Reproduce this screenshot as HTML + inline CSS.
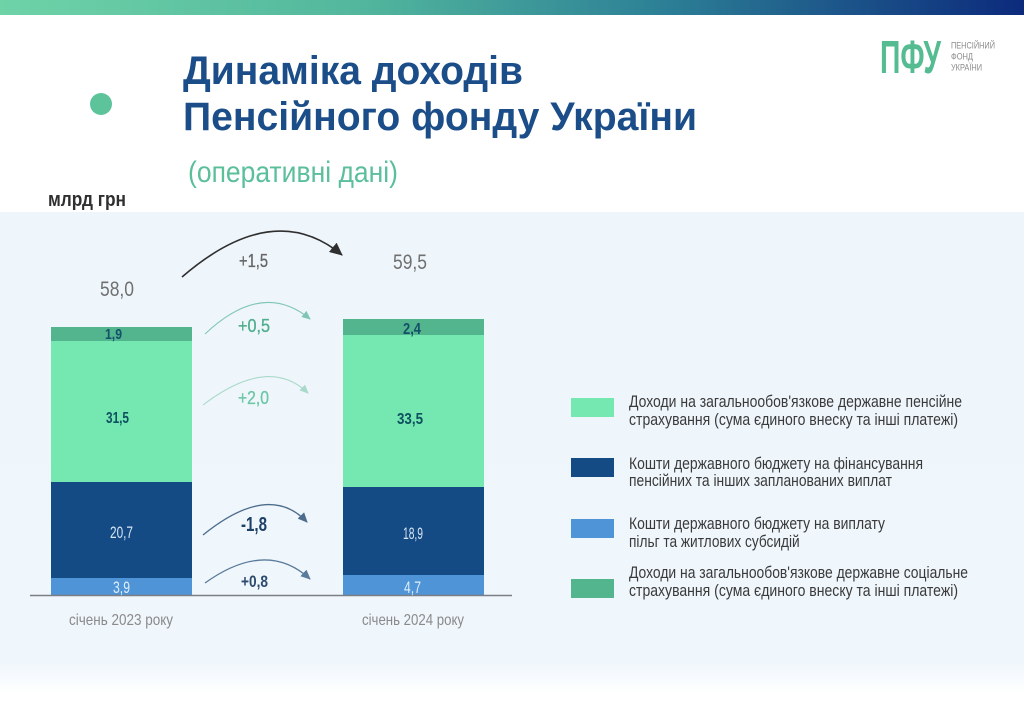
<!DOCTYPE html>
<html>
<head>
<meta charset="utf-8">
<style>
  html,body{margin:0;padding:0;background:#ffffff;}
  svg{display:block;}
  text{font-family:"Liberation Sans","Noto Sans CJK SC",sans-serif;}
</style>
</head>
<body>
<svg width="1024" height="715" viewBox="0 0 1024 715" xmlns="http://www.w3.org/2000/svg">
  <defs>
    <linearGradient id="topbar" x1="0" y1="0" x2="1" y2="0">
      <stop offset="0" stop-color="#6fd3a8"/>
      <stop offset="0.35" stop-color="#52b79d"/>
      <stop offset="0.65" stop-color="#2c7f96"/>
      <stop offset="1" stop-color="#0c2a7c"/>
    </linearGradient>
    <linearGradient id="panel" x1="0" y1="0" x2="0" y2="1">
      <stop offset="0" stop-color="#eef5fb"/>
      <stop offset="0.93" stop-color="#eff6fc"/>
      <stop offset="1" stop-color="#ffffff"/>
    </linearGradient>
    <marker id="mBig" markerWidth="14" markerHeight="12" refX="12" refY="6" orient="auto" markerUnits="userSpaceOnUse">
      <path d="M0,0 L13,6 L0,12 Z" fill="#2f2f2f"/>
    </marker>
    <marker id="m05" markerWidth="9" markerHeight="8" refX="8" refY="4" orient="auto" markerUnits="userSpaceOnUse">
      <path d="M0,0 L9,4 L0,8 Z" fill="#7fc6b5"/>
    </marker>
    <marker id="m20" markerWidth="9" markerHeight="8" refX="8" refY="4" orient="auto" markerUnits="userSpaceOnUse">
      <path d="M0,0 L9,4 L0,8 Z" fill="#a9d9c9"/>
    </marker>
    <marker id="m18" markerWidth="10" markerHeight="9" refX="9" refY="4.5" orient="auto" markerUnits="userSpaceOnUse">
      <path d="M0,0 L10,4.5 L0,9 Z" fill="#4d6c8c"/>
    </marker>
    <marker id="m08" markerWidth="10" markerHeight="9" refX="9" refY="4.5" orient="auto" markerUnits="userSpaceOnUse">
      <path d="M0,0 L10,4.5 L0,9 Z" fill="#5b7b9b"/>
    </marker>
  </defs>

  <!-- background -->
  <rect x="0" y="0" width="1024" height="715" fill="#ffffff"/>
  <rect x="0" y="0" width="1024" height="15" fill="url(#topbar)"/>
  <rect x="0" y="212" width="1024" height="482" fill="url(#panel)"/>

  <!-- header -->
  <circle cx="101" cy="104" r="11" fill="#5cc39a"/>
  <text x="183" y="84" font-size="40" font-weight="bold" fill="#1b4d89" textLength="340" lengthAdjust="spacingAndGlyphs">Динаміка доходів</text>
  <text x="183" y="130" font-size="40" font-weight="bold" fill="#1b4d89" textLength="514" lengthAdjust="spacingAndGlyphs">Пенсійного фонду України</text>
  <text x="188" y="182" font-size="30" fill="#5bbf9a" textLength="210" lengthAdjust="spacingAndGlyphs">(оперативні дані)</text>

  <!-- logo -->
  <text x="880" y="73" font-size="46" font-weight="bold" fill="#55bb91" textLength="61" lengthAdjust="spacingAndGlyphs">ПФУ</text>
  <text x="951" y="48.5" font-size="9" fill="#8a8a8a" textLength="44" lengthAdjust="spacingAndGlyphs">ПЕНСІЙНИЙ</text>
  <text x="951" y="59.5" font-size="9" fill="#8a8a8a" textLength="22" lengthAdjust="spacingAndGlyphs">ФОНД</text>
  <text x="951" y="70.5" font-size="9" fill="#8a8a8a" textLength="31" lengthAdjust="spacingAndGlyphs">УКРАЇНИ</text>

  <text x="48" y="206" font-size="20" font-weight="bold" fill="#2f2f2f" textLength="78" lengthAdjust="spacingAndGlyphs">млрд грн</text>

  <!-- bar 1 -->
  <rect x="51" y="327" width="141" height="14" fill="#52b58e"/>
  <rect x="51" y="341" width="141" height="141" fill="#74e8b0"/>
  <rect x="51" y="482" width="141" height="96" fill="#144b85"/>
  <rect x="51" y="578" width="141" height="17" fill="#4f94d6"/>

  <!-- bar 2 -->
  <rect x="343" y="319" width="141" height="16" fill="#52b58e"/>
  <rect x="343" y="335" width="141" height="152" fill="#74e8b0"/>
  <rect x="343" y="487" width="141" height="88" fill="#144b85"/>
  <rect x="343" y="575" width="141" height="20" fill="#4f94d6"/>

  <!-- axis -->
  <line x1="30" y1="595.5" x2="512" y2="595.5" stroke="#7a7f85" stroke-width="1.5"/>

  <!-- bar labels -->
  <text x="105" y="339" font-size="15" font-weight="bold" fill="#14506a" textLength="17" lengthAdjust="spacingAndGlyphs">1,9</text>
  <text x="106" y="423" font-size="16" font-weight="bold" fill="#0e5060" textLength="23" lengthAdjust="spacingAndGlyphs">31,5</text>
  <text x="110" y="538" font-size="17" fill="#d8e6f5" textLength="23" lengthAdjust="spacingAndGlyphs">20,7</text>
  <text x="113" y="593" font-size="17" fill="#e0eefa" textLength="17" lengthAdjust="spacingAndGlyphs">3,9</text>

  <text x="403" y="334" font-size="16" font-weight="bold" fill="#14506a" textLength="18" lengthAdjust="spacingAndGlyphs">2,4</text>
  <text x="397" y="424" font-size="16" font-weight="bold" fill="#0e5060" textLength="26" lengthAdjust="spacingAndGlyphs">33,5</text>
  <text x="403" y="539" font-size="17" fill="#d8e6f5" textLength="20" lengthAdjust="spacingAndGlyphs">18,9</text>
  <text x="404" y="593" font-size="17" fill="#e0eefa" textLength="17" lengthAdjust="spacingAndGlyphs">4,7</text>

  <!-- totals -->
  <text x="100" y="296" font-size="21" fill="#707070" textLength="34" lengthAdjust="spacingAndGlyphs">58,0</text>
  <text x="393" y="269" font-size="21" fill="#707070" textLength="34" lengthAdjust="spacingAndGlyphs">59,5</text>

  <!-- arcs -->
  <path d="M182,277 Q273.5,198 342,255" fill="none" stroke="#2f2f2f" stroke-width="1.6" marker-end="url(#mBig)"/>
  <path d="M205,334 Q262.5,279.5 310,319" fill="none" stroke="#7fc6b5" stroke-width="1.1" marker-end="url(#m05)"/>
  <path d="M203,405 Q268.5,355 308,393" fill="none" stroke="#a9d9c9" stroke-width="1.1" marker-end="url(#m20)"/>
  <path d="M203,535 Q269,481.5 307,522" fill="none" stroke="#4d6c8c" stroke-width="1.3" marker-end="url(#m18)"/>
  <path d="M205,583 Q266.5,539 310,579" fill="none" stroke="#5b7b9b" stroke-width="1.3" marker-end="url(#m08)"/>

  <!-- deltas -->
  <text x="239" y="267" font-size="18" fill="#666666" stroke="#666666" stroke-width="0.3" textLength="29" lengthAdjust="spacingAndGlyphs">+1,5</text>
  <text x="238" y="332" font-size="18" fill="#4fae8c" stroke="#4fae8c" stroke-width="0.3" textLength="32" lengthAdjust="spacingAndGlyphs">+0,5</text>
  <text x="238" y="404" font-size="18" fill="#6cc7a4" stroke="#6cc7a4" stroke-width="0.3" textLength="31" lengthAdjust="spacingAndGlyphs">+2,0</text>
  <text x="241" y="531" font-size="20" font-weight="bold" fill="#1e3f66" textLength="26" lengthAdjust="spacingAndGlyphs">-1,8</text>
  <text x="241" y="587" font-size="17" font-weight="bold" fill="#2b4a6e" textLength="27" lengthAdjust="spacingAndGlyphs">+0,8</text>

  <!-- x labels -->
  <text x="69" y="625" font-size="16" fill="#8a8a8a" textLength="104" lengthAdjust="spacingAndGlyphs">січень 2023 року</text>
  <text x="362" y="625" font-size="16" fill="#8a8a8a" textLength="102" lengthAdjust="spacingAndGlyphs">січень 2024 року</text>

  <!-- legend -->
  <rect x="571" y="398" width="43" height="19" fill="#74e8b0"/>
  <rect x="571" y="458" width="43" height="19" fill="#144b85"/>
  <rect x="571" y="519" width="43" height="19" fill="#4f94d6"/>
  <rect x="571" y="579" width="43" height="19" fill="#52b58e"/>

  <g font-size="16.5" fill="#3a3a3a">
    <text x="629" y="407" textLength="333" lengthAdjust="spacingAndGlyphs">Доходи на загальнообов'язкове державне пенсійне</text>
    <text x="629" y="425" textLength="329" lengthAdjust="spacingAndGlyphs">страхування (сума єдиного внеску та інші платежі)</text>
    <text x="629" y="469" textLength="294" lengthAdjust="spacingAndGlyphs">Кошти державного бюджету на фінансування</text>
    <text x="629" y="486" textLength="263" lengthAdjust="spacingAndGlyphs">пенсійних та інших запланованих виплат</text>
    <text x="629" y="529" textLength="256" lengthAdjust="spacingAndGlyphs">Кошти державного бюджету на виплату</text>
    <text transform="translate(629,547) scale(0.83,1)" x="0" y="0">пільг та житлових субсидій</text>
    <text x="629" y="578" textLength="339" lengthAdjust="spacingAndGlyphs">Доходи на загальнообов'язкове державне соціальне</text>
    <text x="629" y="596" textLength="329" lengthAdjust="spacingAndGlyphs">страхування (сума єдиного внеску та інші платежі)</text>
  </g>
</svg>
</body>
</html>
